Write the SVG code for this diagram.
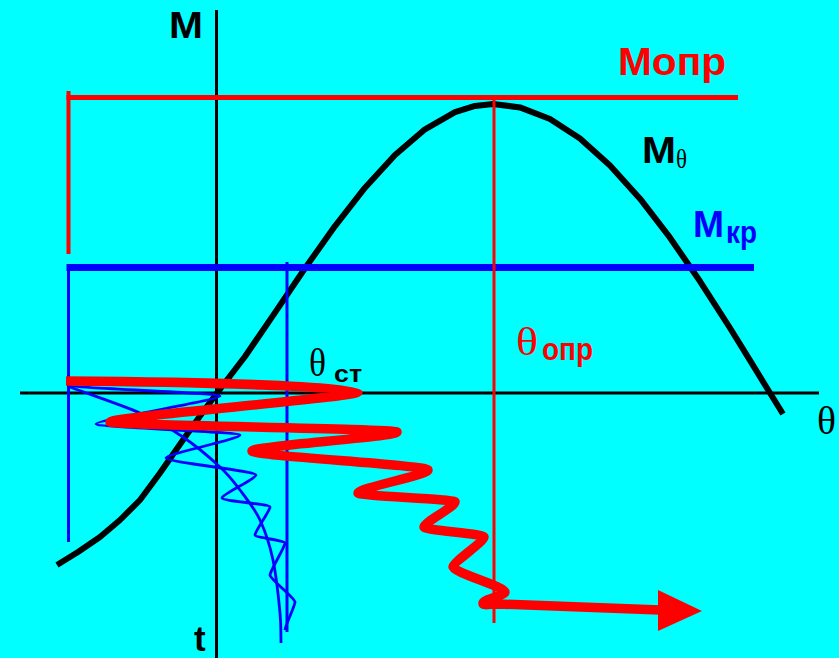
<svg xmlns="http://www.w3.org/2000/svg" width="839" height="658" viewBox="0 0 839 658">
<style>
.sans{font-family:"Liberation Sans",Arial,sans-serif;font-weight:bold}
.serif{font-family:"Liberation Serif","Times New Roman",serif;font-weight:normal}
.ln{fill:none;stroke-linecap:butt}
</style>
<rect x="0" y="0" width="839" height="658" fill="#00FFFF"/>
<g id="axes" class="ln" stroke="#000">
<line x1="216.5" y1="10" x2="216.5" y2="658" stroke-width="3"/>
<line x1="20" y1="393" x2="819" y2="393" stroke-width="3"/>
</g>
<g id="curve-m-theta">
<polyline class="ln" stroke="#000" stroke-width="6" stroke-linejoin="round" points="57,565 78,552 100,537 120,520 140,500 160,473 183,440 200,416 217,393 245,356.5 275,312.6 305,268.3 335,226.1 365,187.7 395,155 425,129.3 455,112.2 475,105.9 493,104 520,107.4 550,119 580,138.5 610,165.4 640,198.7 670,237.7 700,281.3 730,328 750,360.3 770,393 783,414"/>
</g>
<g id="levels" class="ln">
<line x1="66.5" y1="267.5" x2="754" y2="267.5" stroke="#0000FF" stroke-width="7"/>
<line x1="68.5" y1="264" x2="68.5" y2="542" stroke="#0000FF" stroke-width="3"/>
<line x1="287" y1="262" x2="287" y2="632" stroke="#0000FF" stroke-width="3"/>
<line x1="66.5" y1="97.5" x2="738" y2="97.5" stroke="#FF0000" stroke-width="5"/>
<line x1="68.5" y1="91" x2="68.5" y2="254" stroke="#FF0000" stroke-width="4"/>
<line x1="494" y1="98" x2="494" y2="623" stroke="#FF0000" stroke-width="3"/>
</g>
<g id="stable-response" class="ln" stroke="#0000FF" stroke-width="2.8" stroke-linejoin="round">
<path d="M70,387 C93.3,395.7 121.2,404.7 140,413 S169.7,428 183,437 S210.5,458.2 220,467 S233.3,481.2 240,490 S254.5,508.3 260,520 S269.7,544.5 273,560 S278.7,599.2 280,613 S280.7,633 281,643"/>
<path d="M68,385 C68,388 220,393 220,396 C220,400 96,420 96,424 C96,427 240,432 240,435 C240,439 166,454 166,458 C166,462 256,471 256,475 C256,479 222,494 222,498 C222,501 270,504 270,507 C270,511 255,531 255,535 C255,537.7 285,540.3 285,543 C285,547 270,571 270,575 C270,579 295,598 295,602 C295,606 285,626 285,630"/>
</g>
<g id="unstable-response">
<path class="ln" stroke="#FF0000" stroke-width="9.5" stroke-linejoin="round" stroke-linecap="round" d="M66,381 C200,382 358,387 358,392 C358,397 110,417 110,422 C110,425.3 397,428.7 397,432 C397,437 252,446 252,451 C252,456 428,465 428,470 C428,475 358,488 358,493 C358,496 455,499 455,502 C455,507 424,522 424,527 C424,530.3 484,533.7 484,537 C484,542 453,562 453,567 C453,572 505,587 505,592 C505,595.7 483,599.3 483,603 C483,606 490,604 498,604 L660,610"/>
<polygon points="658,590 702,611 658,631" fill="#FF0000"/>
</g>
<g id="labels">
<text class="sans" x="169" y="38" font-size="37" textLength="34" lengthAdjust="spacingAndGlyphs" fill="#000">M</text>
<text class="sans" x="194" y="651" font-size="35" fill="#000">t</text>
<text class="sans" x="618" y="75" font-size="38" textLength="108" lengthAdjust="spacingAndGlyphs" fill="#FF0000">Мопр</text>
<text class="sans" x="642" y="162.5" font-size="37" textLength="34" lengthAdjust="spacingAndGlyphs" fill="#000">M</text>
<text class="serif" x="676" y="167.5" font-size="27" textLength="11" lengthAdjust="spacingAndGlyphs" fill="#000">θ</text>
<text class="sans" x="693" y="236.5" font-size="37" textLength="31" lengthAdjust="spacingAndGlyphs" fill="#0000FF">M</text>
<text class="sans" x="726" y="242.5" font-size="32" textLength="31" lengthAdjust="spacingAndGlyphs" fill="#0000FF">кр</text>
<text class="serif" x="516" y="355" font-size="39" textLength="22" lengthAdjust="spacingAndGlyphs" fill="#FF0000">θ</text>
<text class="sans" x="542" y="360" font-size="31" textLength="51" lengthAdjust="spacingAndGlyphs" fill="#FF0000">опр</text>
<text class="serif" x="309" y="376" font-size="39" textLength="17" lengthAdjust="spacingAndGlyphs" fill="#000">θ</text>
<text class="sans" x="334" y="381.5" font-size="23" textLength="28" lengthAdjust="spacingAndGlyphs" fill="#000">ст</text>
<text class="serif" x="817" y="434" font-size="39" textLength="19" lengthAdjust="spacingAndGlyphs" fill="#000">θ</text>
</g>
</svg>
